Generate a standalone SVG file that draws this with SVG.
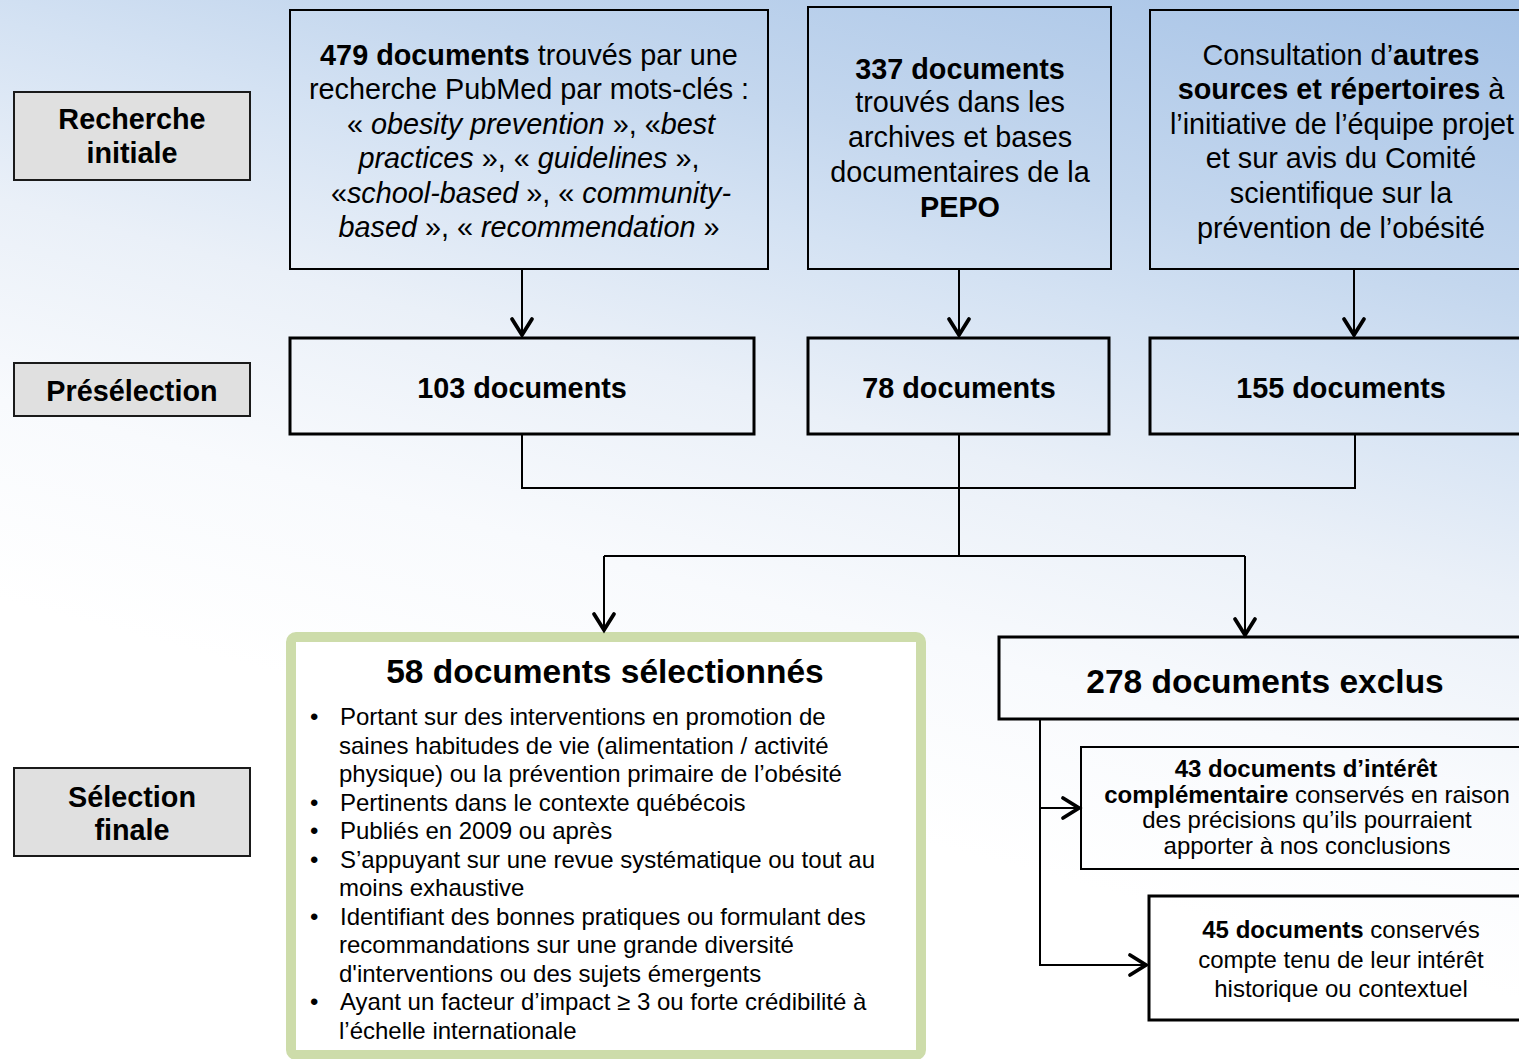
<svg xmlns="http://www.w3.org/2000/svg" width="1519" height="1059" viewBox="0 0 1519 1059">
<defs>
<linearGradient id="bg" gradientUnits="userSpaceOnUse" x1="1519" y1="0" x2="1273" y2="935">
<stop offset="0" stop-color="#a5c2e6"/>
<stop offset="0.3" stop-color="#c4d7ee"/>
<stop offset="0.42" stop-color="#d4e2f3"/>
<stop offset="0.6" stop-color="#eaf0f8"/>
<stop offset="0.8" stop-color="#f8fafd"/>
<stop offset="1" stop-color="#ffffff"/>
</linearGradient>
<marker id="arr" markerUnits="userSpaceOnUse" orient="auto" refX="0" refY="0" markerWidth="30" markerHeight="30" overflow="visible">
<path d="M-17,-10 L-1,0 L-17,10" fill="none" stroke="#000" stroke-width="3.8" stroke-linejoin="miter" stroke-linecap="round"/>
</marker>
<style>
text{font-family:"Liberation Sans",Arial,sans-serif;fill:#000;}
.t29{font-size:28.8px;text-anchor:middle;}
.t24{font-size:24px;text-anchor:middle;}
.tl24{font-size:24px;}
.t33{font-size:33.5px;font-weight:bold;text-anchor:middle;}
.b{font-weight:bold;}
.i{font-style:italic;}
.box{fill:none;stroke:#000;stroke-width:2;}
.box3{fill:none;stroke:#000;stroke-width:3;}
.gray{fill:#e0e0e0;stroke:#1a1a1a;stroke-width:2;}
.green{fill:#ffffff;stroke:#cddcaa;stroke-width:10;}
.con{fill:none;stroke:#000;stroke-width:2;}
</style>
</defs>
<rect x="0" y="0" width="1519" height="1059" fill="url(#bg)"/>

<g id="label-recherche">
<rect class="gray" x="14" y="92" width="236" height="88"/>
<text class="t29 b" x="132" y="129">Recherche</text>
<text class="t29 b" x="132" y="163">initiale</text>
</g>
<g id="label-preselection">
<rect class="gray" x="14" y="363" width="236" height="53"/>
<text class="t29 b" x="132" y="401">Présélection</text>
</g>
<g id="label-selection">
<rect class="gray" x="14" y="768" width="236" height="88"/>
<text class="t29 b" x="132" y="807">Sélection</text>
<text class="t29 b" x="132" y="840">finale</text>
</g>

<g id="box-pubmed">
<rect class="box" x="290" y="10" width="478" height="259"/>
<text class="t29" x="529" y="65"><tspan class="b">479 documents</tspan> trouvés par une</text>
<text class="t29" x="529" y="99">recherche PubMed par mots-clés :</text>
<text class="t29" x="531" y="134">« <tspan class="i">obesity prevention</tspan> », «<tspan class="i">best</tspan></text>
<text class="t29" x="529" y="168"><tspan class="i">practices</tspan> », « <tspan class="i">guidelines</tspan> »,</text>
<text class="t29" x="531" y="203">«<tspan class="i">school-based</tspan> », « <tspan class="i">community-</tspan></text>
<text class="t29" x="529" y="237"><tspan class="i">based</tspan> », « <tspan class="i">recommendation</tspan> »</text>
</g>

<g id="box-pepo">
<rect class="box" x="808" y="7" width="303" height="262"/>
<text class="t29" x="960" y="79"><tspan class="b">337 documents</tspan></text>
<text class="t29" x="960" y="112">trouvés dans les</text>
<text class="t29" x="960" y="147">archives et bases</text>
<text class="t29" x="960" y="182">documentaires de la</text>
<text class="t29 b" x="960" y="217">PEPO</text>
</g>

<g id="box-autres">
<rect class="box" x="1150" y="10" width="380" height="259"/>
<text class="t29" x="1341" y="65">Consultation d’<tspan class="b">autres</tspan></text>
<text class="t29" x="1341" y="99"><tspan class="b">sources et répertoires</tspan> à</text>
<text class="t29" x="1342" y="134">l’initiative de l’équipe projet</text>
<text class="t29" x="1341" y="168">et sur avis du Comité</text>
<text class="t29" x="1341" y="203">scientifique sur la</text>
<text class="t29" x="1341" y="238">prévention de l’obésité</text>
</g>

<g id="box-103">
<rect class="box3" x="290" y="338" width="464" height="96"/>
<text class="t29 b" x="522" y="398">103 documents</text>
</g>
<g id="box-78">
<rect class="box3" x="808" y="338" width="301" height="96"/>
<text class="t29 b" x="959" y="398">78 documents</text>
</g>
<g id="box-155">
<rect class="box3" x="1150" y="338" width="380" height="96"/>
<text class="t29 b" x="1341" y="398">155 documents</text>
</g>

<g id="box-selectionnes">
<rect class="green" x="291" y="637" width="630" height="418" rx="5"/>
<text class="t33" x="605" y="683">58 documents sélectionnés</text>
<g class="tl24">
<text class="tl24" x="310" y="725">•</text>
<text class="tl24" x="340" y="725">Portant sur des interventions en promotion de</text>
<text class="tl24" x="339" y="753.5">saines habitudes de vie (alimentation / activité</text>
<text class="tl24" x="339" y="782">physique) ou la prévention primaire de l’obésité</text>
<text class="tl24" x="310" y="810.5">•</text>
<text class="tl24" x="340" y="810.5">Pertinents dans le contexte québécois</text>
<text class="tl24" x="310" y="839">•</text>
<text class="tl24" x="340" y="839">Publiés en 2009 ou après</text>
<text class="tl24" x="310" y="867.5">•</text>
<text class="tl24" x="340" y="867.5">S’appuyant sur une revue systématique ou tout au</text>
<text class="tl24" x="339" y="896">moins exhaustive</text>
<text class="tl24" x="310" y="924.5">•</text>
<text class="tl24" x="340" y="924.5">Identifiant des bonnes pratiques ou formulant des</text>
<text class="tl24" x="339" y="953">recommandations sur une grande diversité</text>
<text class="tl24" x="339" y="981.5">d'interventions ou des sujets émergents</text>
<text class="tl24" x="310" y="1010">•</text>
<text class="tl24" x="340" y="1010">Ayant un facteur d’impact ≥ 3 ou forte crédibilité à</text>
<text class="tl24" x="339" y="1038.5">l’échelle internationale</text>
</g>
</g>

<g id="box-exclus">
<rect class="box3" x="999" y="637" width="530" height="82"/>
<text class="t33" x="1265" y="693">278 documents exclus</text>
</g>

<g id="box-complementaire">
<rect class="box" x="1081" y="747" width="450" height="122"/>
<text class="t24" x="1306" y="777"><tspan class="b">43 documents d’intérêt</tspan></text>
<text class="t24" x="1307" y="803"><tspan class="b">complémentaire</tspan> conservés en raison</text>
<text class="t24" x="1307" y="828">des précisions qu’ils pourraient</text>
<text class="t24" x="1307" y="854">apporter à nos conclusions</text>
</g>

<g id="box-historique">
<rect class="box3" x="1149" y="896" width="380" height="124"/>
<text class="t24" x="1341" y="938"><tspan class="b">45 documents</tspan> conservés</text>
<text class="t24" x="1341" y="968">compte tenu de leur intérêt</text>
<text class="t24" x="1341" y="997">historique ou contextuel</text>
</g>

<g id="connectors">
<path class="con" d="M522,269 V336" marker-end="url(#arr)"/>
<path class="con" d="M959,269 V336" marker-end="url(#arr)"/>
<path class="con" d="M1354,269 V336" marker-end="url(#arr)"/>
<path class="con" d="M522,435 V488 H1355 V435"/>
<path class="con" d="M959,435 V556"/>
<path class="con" d="M604,556 H1245"/>
<path class="con" d="M604,556 V631" marker-end="url(#arr)"/>
<path class="con" d="M1245,556 V636" marker-end="url(#arr)"/>
<path class="con" d="M1040,720 V965 H1147" marker-end="url(#arr)"/>
<path class="con" d="M1040,808 H1080" marker-end="url(#arr)"/>
</g>
</svg>
